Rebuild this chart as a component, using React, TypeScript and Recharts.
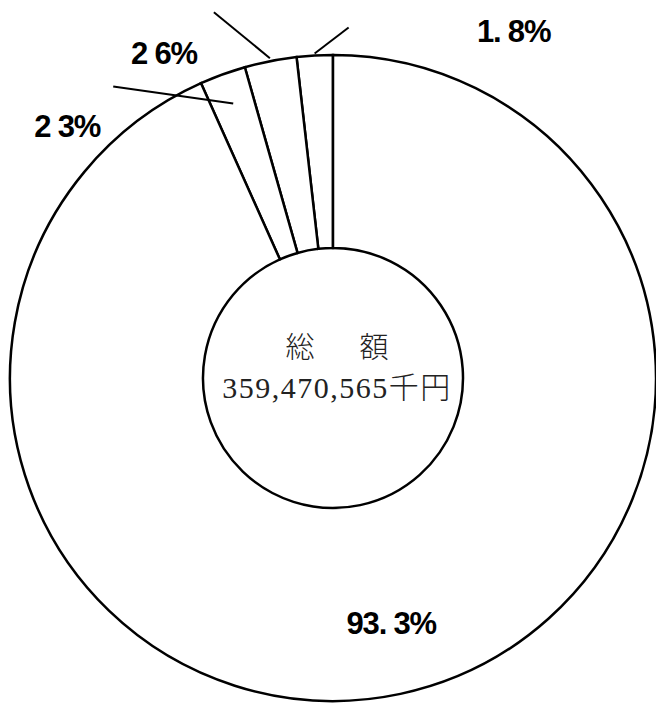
import { PieChart, Pie, Cell } from "recharts";

// shares of the total, counter-clockwise from 12 o'clock
const SHARES = [1.8, 2.6, 2.3, 93.3];
const SHARE_LABELS = ["1. 8%", "2 6%", "2 3%", "93. 3%"];

const TOTAL_TITLE = "総　額";
const TOTAL_AMOUNT = "359,470,565千円";

const RADIAN = Math.PI / 180;
const LABEL_FONT = "'Liberation Sans', 'DejaVu Sans', sans-serif";
const CENTER_FONT = "'Liberation Serif', 'Noto Sans CJK JP', serif";

// where each label sits, relative to its slice: radial offset from the outer
// edge for the anchor point, leader line vector and text offset from the anchor
const LABEL_LAYOUT: { dr: number; line: [number, number] | null; text: [number, number] }[] = [
  { dr: 2, line: [34, -26], text: [199, -12] },
  { dr: 3, line: [-56, -46], text: [-106, 6] },
  { dr: -31, line: [-120, -17], text: [-166, 33] },
  { dr: -73, line: null, text: [6, 12] },
];

// total in the hole of the donut
function CenterTotal({ cx, cy }: { cx: number; cy: number }) {
  return (
    <g>
      <text
        x={cx + 8}
        y={cy - 20}
        textAnchor="middle"
        fontFamily={CENTER_FONT}
        fontSize={29}
        fontWeight={300}
        letterSpacing={8}
        fill="#222"
      >
        {TOTAL_TITLE}
      </text>
      <text
        x={cx + 4}
        y={cy + 20}
        textAnchor="middle"
        fontFamily={CENTER_FONT}
        fontSize={30}
        fontWeight={300}
        letterSpacing={1.5}
        fill="#222"
      >
        {TOTAL_AMOUNT}
      </text>
    </g>
  );
}

function renderShareLabel(props: any) {
  const { cx, cy, midAngle, outerRadius, index } = props;
  const layout = LABEL_LAYOUT[index];
  const r = outerRadius + layout.dr;
  const x = cx + r * Math.cos(-midAngle * RADIAN);
  const y = cy + r * Math.sin(-midAngle * RADIAN);
  return (
    <g key={`label-${index}`}>
      {layout.line && (
        <line
          x1={x}
          y1={y}
          x2={x + layout.line[0]}
          y2={y + layout.line[1]}
          stroke="#000"
          strokeWidth={2}
        />
      )}
      <text
        x={x + layout.text[0]}
        y={y + layout.text[1]}
        textAnchor="middle"
        fontFamily={LABEL_FONT}
        fontWeight="bold"
        fontSize={31}
        letterSpacing={-1.2}
        fill="#000"
      >
        {SHARE_LABELS[index]}
      </text>
      {index === SHARES.length - 1 && <CenterTotal cx={cx} cy={cy} />}
    </g>
  );
}

export default function App() {
  const data = SHARES.map((value, i) => ({ name: SHARE_LABELS[i], value }));

  return (
    <div style={{ position: "absolute", left: 0, top: 0, width: 656, height: 704, background: "#fff" }}>
      <PieChart width={656} height={704} margin={{ top: 0, right: 0, bottom: 0, left: 0 }}>
        <Pie
          data={data}
          dataKey="value"
          nameKey="name"
          cx={333}
          cy={378}
          innerRadius={130}
          outerRadius={323}
          startAngle={90}
          endAngle={450}
          stroke="#000"
          strokeWidth={2.5}
          label={renderShareLabel}
          labelLine={false}
          isAnimationActive={false}
        >
          {data.map((entry) => (
            <Cell key={entry.name} fill="#fff" />
          ))}
        </Pie>
      </PieChart>
    </div>
  );
}
